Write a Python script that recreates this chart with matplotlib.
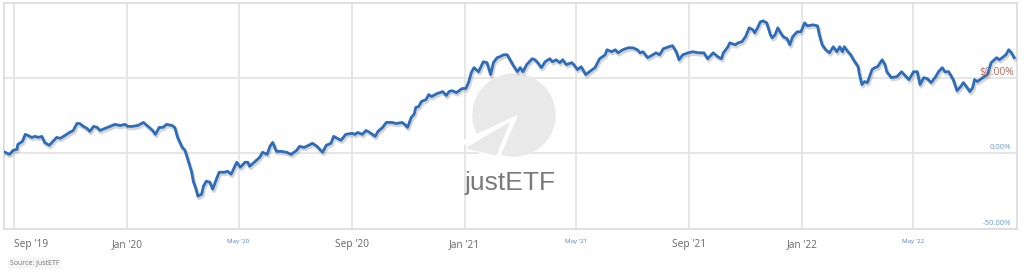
import matplotlib
matplotlib.use("Agg")
import matplotlib.pyplot as plt
import matplotlib.dates as mdates
import matplotlib.patheffects as pe
from matplotlib.patches import Circle, Polygon
from matplotlib.transforms import IdentityTransform
import pandas as pd

dates = [
    "2019-08-22", "2019-08-27", "2019-08-31", "2019-09-04", "2019-09-05", "2019-09-10", "2019-09-13",
    "2019-09-16", "2019-09-20", "2019-09-24", "2019-09-27", "2019-10-01", "2019-10-04", "2019-10-09",
    "2019-10-13", "2019-10-17", "2019-10-21", "2019-10-26", "2019-10-31", "2019-11-04", "2019-11-08",
    "2019-11-11", "2019-11-15", "2019-11-19", "2019-11-22", "2019-11-26", "2019-11-30", "2019-12-03",
    "2019-12-08", "2019-12-14", "2019-12-19", "2019-12-25", "2019-12-30", "2020-01-02", "2020-01-07",
    "2020-01-13", "2020-01-19", "2020-01-24", "2020-01-29", "2020-02-01", "2020-02-05", "2020-02-09",
    "2020-02-13", "2020-02-19", "2020-02-22", "2020-02-25", "2020-03-01", "2020-03-04", "2020-03-07",
    "2020-03-11", "2020-03-13", "2020-03-16", "2020-03-18", "2020-03-22", "2020-03-24", "2020-03-27",
    "2020-03-31", "2020-04-03", "2020-04-07", "2020-04-10", "2020-04-16", "2020-04-19", "2020-04-23",
    "2020-04-29", "2020-05-03", "2020-05-08", "2020-05-11", "2020-05-13", "2020-05-18", "2020-05-24",
    "2020-05-27", "2020-06-01", "2020-06-04", "2020-06-07", "2020-06-11", "2020-06-16", "2020-06-22",
    "2020-06-27", "2020-07-03", "2020-07-06", "2020-07-11", "2020-07-16", "2020-07-20", "2020-07-25",
    "2020-07-31", "2020-08-04", "2020-08-09", "2020-08-12", "2020-08-16", "2020-08-20", "2020-08-25",
    "2020-09-01", "2020-09-04", "2020-09-07", "2020-09-12", "2020-09-16", "2020-09-20", "2020-09-26",
    "2020-09-29", "2020-10-04", "2020-10-08", "2020-10-14", "2020-10-19", "2020-10-25", "2020-10-28",
    "2020-10-31", "2020-11-04", "2020-11-07", "2020-11-09", "2020-11-12", "2020-11-15", "2020-11-20",
    "2020-11-23", "2020-11-26", "2020-12-02", "2020-12-05", "2020-12-08", "2020-12-12", "2020-12-15",
    "2020-12-18", "2020-12-23", "2020-12-29", "2021-01-02", "2021-01-05", "2021-01-08", "2021-01-11",
    "2021-01-16", "2021-01-21", "2021-01-25", "2021-01-29", "2021-02-01", "2021-02-05", "2021-02-08",
    "2021-02-12", "2021-02-16", "2021-02-19", "2021-02-22", "2021-02-27", "2021-03-02", "2021-03-05",
    "2021-03-09", "2021-03-15", "2021-03-18", "2021-03-21", "2021-03-25", "2021-03-29", "2021-04-03",
    "2021-04-06", "2021-04-10", "2021-04-14", "2021-04-17", "2021-04-21", "2021-04-27", "2021-04-30",
    "2021-05-03", "2021-05-07", "2021-05-12", "2021-05-16", "2021-05-22", "2021-05-27", "2021-06-02",
    "2021-06-04", "2021-06-09", "2021-06-13", "2021-06-16", "2021-06-21", "2021-06-27", "2021-07-02",
    "2021-07-07", "2021-07-10", "2021-07-13", "2021-07-18", "2021-07-22", "2021-07-27", "2021-07-31",
    "2021-08-04", "2021-08-10", "2021-08-14", "2021-08-18", "2021-08-21", "2021-08-25", "2021-08-31",
    "2021-09-05", "2021-09-11", "2021-09-14", "2021-09-17", "2021-09-21", "2021-09-27", "2021-10-02",
    "2021-10-06", "2021-10-08", "2021-10-13", "2021-10-15", "2021-10-21", "2021-10-24", "2021-10-28",
    "2021-11-01", "2021-11-05", "2021-11-09", "2021-11-11", "2021-11-14", "2021-11-17", "2021-11-20",
    "2021-11-24", "2021-11-28", "2021-11-30", "2021-12-03", "2021-12-06", "2021-12-09", "2021-12-12",
    "2021-12-16", "2021-12-19", "2021-12-22", "2021-12-27", "2021-12-31", "2022-01-04", "2022-01-07",
    "2022-01-13", "2022-01-18", "2022-01-20", "2022-01-23", "2022-01-27", "2022-01-31", "2022-02-04",
    "2022-02-08", "2022-02-11", "2022-02-14", "2022-02-16", "2022-02-20", "2022-02-23", "2022-02-26",
    "2022-03-03", "2022-03-04", "2022-03-07", "2022-03-10", "2022-03-13", "2022-03-18", "2022-03-21",
    "2022-03-24", "2022-03-29", "2022-04-01", "2022-04-03", "2022-04-08", "2022-04-14", "2022-04-19",
    "2022-04-23", "2022-04-27", "2022-05-02", "2022-05-06", "2022-05-09", "2022-05-13", "2022-05-17",
    "2022-05-21", "2022-05-26", "2022-05-29", "2022-06-02", "2022-06-05", "2022-06-09", "2022-06-14",
    "2022-06-18", "2022-06-22", "2022-06-25", "2022-06-29", "2022-07-02", "2022-07-05", "2022-07-07",
    "2022-07-10", "2022-07-16", "2022-07-21", "2022-07-25", "2022-07-31", "2022-08-03", "2022-08-06",
    "2022-08-10", "2022-08-13", "2022-08-16", "2022-08-19",
]
perf = [
    0.7, -0.7, 2.0, 2.6, 5.9, 7.9, 12.5,
    11.8, 10.5, 11.2, 10.5, 11.2, 7.2, 5.3,
    7.9, 10.5, 9.9, 11.8, 13.8, 15.1, 19.7,
    19.7, 17.8, 16.4, 14.5, 17.8, 17.1, 15.1,
    16.4, 17.8, 19.1, 18.4, 19.1, 17.8, 17.8,
    18.4, 20.4, 17.8, 15.1, 12.5, 17.1, 17.1,
    19.1, 18.4, 17.1, 10.5, 3.9, 2.0, -3.9,
    -11.8, -18.4, -23.7, -28.3, -27.0, -21.7, -18.4,
    -19.1, -23.7, -17.1, -12.5, -12.5, -11.8, -13.8,
    -5.9, -9.2, -5.9, -5.9, -8.6, -5.9, -2.6,
    0.7, -0.7, 4.6, 7.2, 1.3, 1.3, 0.7,
    -0.7, 2.0, 4.6, 3.9, 5.3, 6.6, 4.6,
    0.7, 5.3, 6.6, 11.2, 9.9, 8.6, 12.5,
    13.2, 12.5, 13.8, 12.5, 15.1, 13.8, 11.2,
    14.5, 17.1, 20.4, 20.4, 19.7, 20.4, 19.1,
    17.1, 23.7, 25.7, 30.3, 30.9, 34.2, 35.5,
    38.8, 37.5, 39.5, 40.1, 40.8, 38.2, 40.8,
    41.4, 40.1, 42.8, 42.8, 46.7, 53.3, 56.6,
    53.9, 60.5, 59.9, 52.0, 59.9, 63.2, 63.8,
    65.1, 65.1, 61.8, 58.6, 53.9, 56.6, 53.9,
    58.6, 62.5, 61.8, 59.9, 56.6, 60.5, 62.5,
    60.5, 61.8, 59.9, 61.8, 58.6, 59.9, 57.9,
    55.3, 57.2, 52.0, 53.9, 56.6, 62.5, 65.1,
    68.4, 67.1, 68.4, 66.4, 68.4, 69.7, 69.7,
    68.4, 66.4, 67.1, 63.2, 64.5, 66.4, 65.1,
    69.1, 70.4, 71.1, 67.1, 61.8, 65.1, 66.4,
    67.1, 66.4, 66.4, 66.4, 62.5, 66.4, 63.8,
    62.5, 66.4, 70.4, 73.0, 71.7, 73.0, 73.7,
    77.0, 82.9, 81.6, 79.6, 82.9, 86.8, 87.5,
    86.2, 78.3, 76.3, 78.3, 82.9, 79.6, 77.0,
    75.7, 71.7, 77.0, 80.3, 80.3, 86.2, 84.2,
    84.9, 84.2, 78.3, 71.7, 68.4, 66.4, 70.4,
    67.1, 70.4, 67.1, 70.4, 67.1, 65.1, 61.8,
    57.2, 53.3, 45.4, 47.4, 46.7, 55.3, 56.6,
    57.2, 61.8, 58.6, 53.9, 50.0, 50.7, 53.9,
    51.3, 48.7, 53.9, 53.9, 45.4, 50.0, 49.3,
    46.7, 50.7, 53.9, 56.6, 53.9, 53.9, 48.7,
    41.4, 44.1, 46.7, 43.4, 40.8, 43.4, 48.7,
    47.4, 50.0, 52.0, 59.9, 63.2, 61.8, 63.2,
    65.1, 68.4, 66.4, 63.2,
]

major_ticks = ["2019-09-01", "2020-01-01", "2020-09-01", "2021-01-01", "2021-09-01", "2022-01-01"]
major_labels = ["Sep '19", "Jan '20", "Sep '20", "Jan '21", "Sep '21", "Jan '22"]
minor_ticks = ["2020-05-01", "2021-05-01", "2022-05-01"]
minor_labels = ["May '20", "May '21", "May '22"]
y_ticks = [-50, 0, 50]
y_labels = ["-50.00%", "0.00%", "$0.00%"]

plt.rcParams['font.family'] = ['Open Sans', 'DejaVu Sans']

fig = plt.figure(figsize=(10.24, 2.72), dpi=100)
ax = fig.add_axes([4 / 1024, 43 / 272, 1013 / 1024, 226 / 272])

x = pd.to_datetime(dates)
ax.plot(x, perf, color="#2c6cb8", lw=2.0, zorder=5,
        path_effects=[pe.SimpleLineShadow(offset=(0.8, -1.5), shadow_color="#888888", alpha=0.35, linewidth=2.6),
                      pe.Normal()])

ax.set_xlim(pd.Timestamp("2019-08-21"), pd.Timestamp("2022-08-22"))
ax.set_ylim(-49.5, 99.3)

ax.set_xticks(pd.to_datetime(major_ticks))
ax.set_xticklabels(major_labels, fontsize=7.3, color="#666666")
ax.set_xticks(pd.to_datetime(minor_ticks), minor=True)
ax.set_xticklabels(minor_labels, minor=True, fontsize=4.4, color="#4a7fd0")
ax.tick_params(axis="x", which="both", length=0, pad=7)
ax.get_xticklabels()[0].set_horizontalalignment("left")
ax.get_xticklabels()[0].set_x(mdates.date2num(pd.Timestamp("2019-08-23")))

ax.set_yticks(y_ticks)
ax.set_yticklabels([])
ax.tick_params(axis="y", length=0)
ax.grid(True, which="both", color="#e4e4e4", lw=1.3)
ax.set_axisbelow(True)

for sp in ax.spines.values():
    sp.set_color("#dadada")
    sp.set_linewidth(1.2)

for v, lab in zip(y_ticks, y_labels):
    if lab.startswith("$"):
        ax.text(0.9975, v, lab, transform=ax.get_yaxis_transform(), ha="right", va="bottom",
                fontsize=7.4, color="#b46a5c", zorder=6)
    else:
        ax.text(0.9945, v + 1.5, lab, transform=ax.get_yaxis_transform(), ha="right", va="bottom",
                fontsize=5.6, color="#6a9ad8", zorder=6)

# justETF watermark
ident = IdentityTransform()
ax.add_patch(Circle((514, 272 - 115), 41, transform=ident, color="#e9e9e9", zorder=1, clip_on=False))
ax.add_patch(Polygon([(517, 272 - 116), (461, 272 - 142), (497, 272 - 162)], closed=True,
                     transform=ident, color="white", zorder=1.1, clip_on=False))
ax.add_patch(Polygon([(509, 272 - 123), (467, 272 - 148), (496, 272 - 155)], closed=True,
                     transform=ident, color="#e9e9e9", zorder=1.2, clip_on=False))
fig.text(510 / 1024, 1 - 183 / 272, "justETF", fontsize=19, color="#7a7a7a", ha="center", va="center",
         family="Liberation Sans", zorder=2)

fig.text(10 / 1024, 1 - 263 / 272, "Source: JustETF", fontsize=5, color="#777777", va="center",
         bbox=dict(facecolor="#f6f6f6", edgecolor="none", pad=1.5))

fig.savefig("out.png", dpi=100)
